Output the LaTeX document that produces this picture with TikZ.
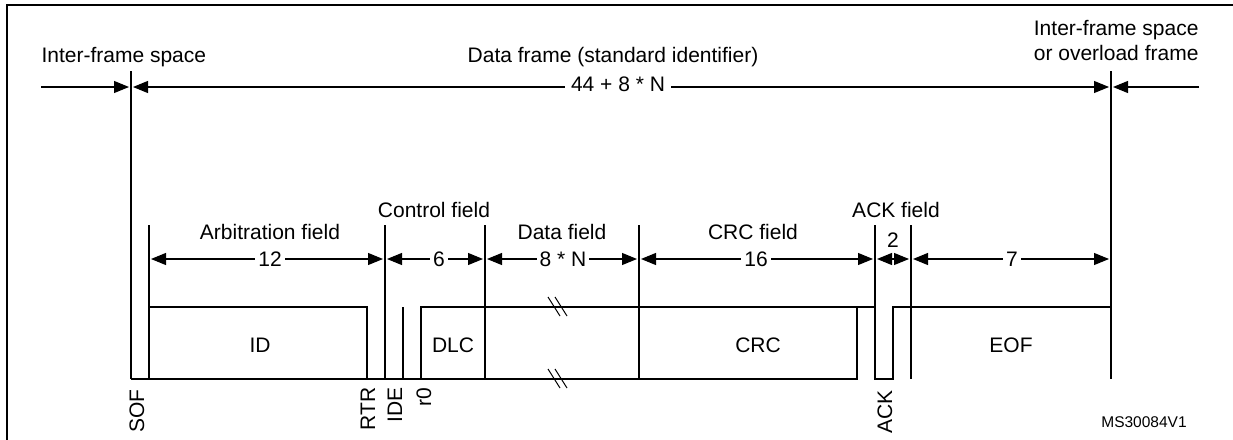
\documentclass[tikz,border=0pt]{standalone}
\usepackage{fontspec}
\setmainfont{Liberation Sans}
\usetikzlibrary{arrows.meta}
\begin{document}
\begin{tikzpicture}[x=1pt,y=-1pt, line width=1.1pt,
  lbl/.style={font=\fontsize{21}{25}\selectfont, inner sep=0pt},
  tip/.tip={Triangle[length=15pt,width=12pt]},
  dimarrow/.style={tip-tip},
  rarrow/.style={-tip},
  dimlbl/.style={lbl, fill=white, inner xsep=5pt, inner ysep=1pt},
  bitlbl/.style={lbl, rotate=90, anchor=east},
  frameline/.style={line width=2.3pt},
  brk/.style={line width=1pt}]
\useasboundingbox (0,0) rectangle (1233,439);
% outer frame (left and top edges visible)
\draw[frameline] (7,445) -- (7,5) -- (1240,5);

% top labels
\node[lbl, anchor=base west] (ifsL) at (41,62) {Inter-frame space};
\node[lbl, anchor=base] (df) at (613,62) {Data frame (standard identifier)};
\node[lbl, anchor=base east] (ifsR1) at (1199,35) {Inter-frame space};
\node[lbl, anchor=base east] (ifsR2) at (1199,60) {or overload frame};

% main frame boundaries
\coordinate (sofTop) at (131,71);
\coordinate (sofBot) at (131,379);
\coordinate (endTop) at (1111,71);
\coordinate (endBot) at (1111,379);
\draw (sofTop) -- (sofBot);
\draw (endTop) -- (endBot);

% top dimension row
\coordinate (l0) at (41,87);
\coordinate (l1) at (129,87);
\coordinate (m0) at (133,87);
\coordinate (m1) at (1109,87);
\coordinate (r0) at (1199,87);
\coordinate (r1) at (1113,87);
\draw[rarrow] (l0) -- (l1);
\draw[dimarrow] (m0) -- (m1);
\draw[rarrow] (r0) -- (r1);
\node[dimlbl, inner xsep=6pt] (tot) at (618,84) {44 + 8 * N};

% field labels
\node[lbl, anchor=base] (arbL) at (270,239) {Arbitration field};
\node[lbl, anchor=base] (ctlL) at (434,217) {Control field};
\node[lbl, anchor=base] (datL) at (562,239) {Data field};
\node[lbl, anchor=base] (crcL) at (753,239) {CRC field};
\node[lbl, anchor=base] (ackL) at (896,217) {ACK field};
\node[lbl, anchor=base] (ackN) at (893,247) {2};

% field boundary lines
\foreach \x in {149,385,485,639,875,911} {
  \draw (\x,225) -- (\x,379);
}

% field dimension arrows
\draw[dimarrow] (151,259) -- (383,259);
\draw[dimarrow] (387,259) -- (483,259);
\draw[dimarrow] (487,259) -- (637,259);
\draw[dimarrow] (641,259) -- (873,259);
\draw[dimarrow] (877,259) -- (909,259);
\draw[dimarrow] (913,259) -- (1109,259);
\node[dimlbl, inner xsep=3pt] (n12) at (270,259) {12};
\node[dimlbl, inner xsep=3pt] (n6) at (439,259) {6};
\node[dimlbl, inner xsep=3pt] (n8N) at (563,259) {8 * N};
\node[dimlbl, inner xsep=3pt] (n16) at (756,259) {16};
\node[dimlbl, inner xsep=3pt] (n7) at (1012,259) {7};

% waveform
\draw (sofBot) -- (857,379) -- (857,307);
\draw (149,307) -- (367,307) -- (367,379);
\draw (403,307) -- (403,379);
\draw (421,379) -- (421,307) -- (875,307) -- (875,379) -- (893,379) -- (893,307) -- (1111,307);

% break marks in data field
\draw[brk] (548,297) -- (560,316);
\draw[brk] (555,297) -- (567,316);
\draw[brk] (548,369) -- (560,388);
\draw[brk] (555,369) -- (567,388);

% box labels
\node[lbl] (idT) at (260,345) {ID};
\node[lbl] (dlcT) at (453,345) {DLC};
\node[lbl] (crcT) at (758,345) {CRC};
\node[lbl] (eofT) at (1011,345) {EOF};

% bit labels
\node[bitlbl] (sofB) at (137,389) {SOF};
\node[bitlbl] (rtrB) at (368,387) {RTR};
\node[bitlbl] (ideB) at (395,387) {IDE};
\node[bitlbl] (r0B) at (424,387) {r0};
\node[bitlbl] (ackB) at (885,390) {ACK};

\node[font=\fontsize{15.5}{18}\selectfont, inner sep=0pt] (ref) at (1144,422) {MS30084V1};
\end{tikzpicture}
\end{document}
